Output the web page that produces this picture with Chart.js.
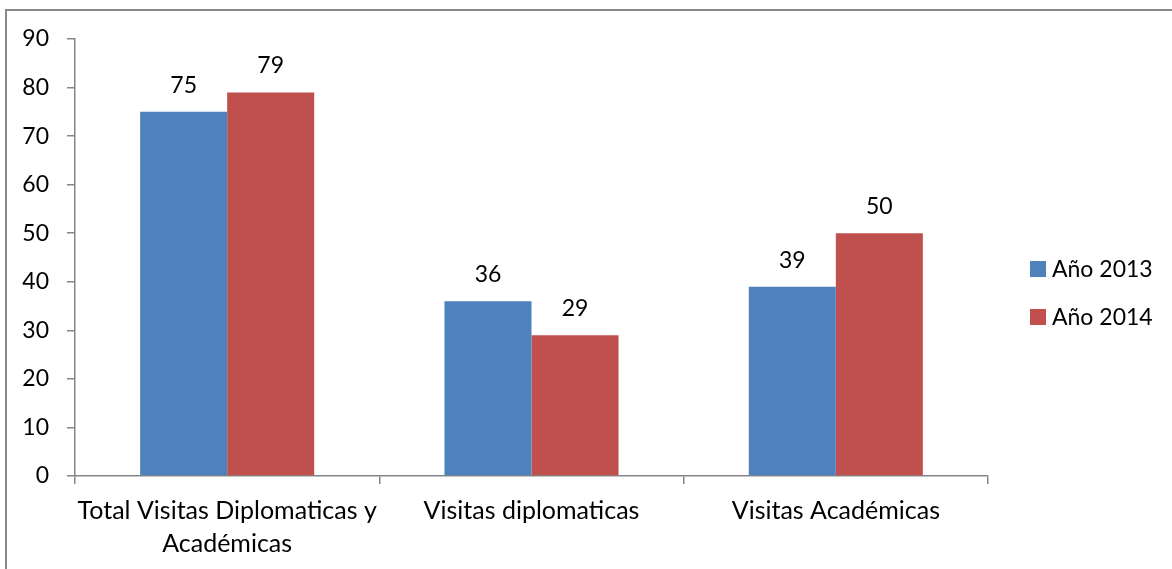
<!DOCTYPE html>
<html>
<head>
<meta charset="utf-8">
<script src="https://cdn.jsdelivr.net/npm/chart.js@4"></script>
<style>
  html, body { margin: 0; padding: 0; background: #fff; }
  #wrap { position: absolute; left: 0; top: 0; width: 1172px; height: 569px; }
</style>
</head>
<body>
<div id="wrap"><canvas id="BarChart"></canvas></div>
<script>
// data
const categories = [['Total Visitas Diplomaticas y', 'Académicas'], 'Visitas diplomaticas', 'Visitas Académicas'];
const seriesNames = ['Año 2013', 'Año 2014'];
const values2013 = [75, 36, 39];
const values2014 = [79, 29, 50];
const yTicks = [0, 10, 20, 30, 40, 50, 60, 70, 80, 90];

const colors = ['#4F81BD', '#C0504D'];
const axisGray = '#868686';
const fontFamily = 'Lato, "Open Sans", sans-serif';
const fontSize = 23;

// value labels above every bar
const barLabels = {
    id: 'barLabels',
    afterDatasetsDraw(chart) {
        const ctx = chart.ctx;
        ctx.save();
        ctx.font = fontSize + 'px ' + fontFamily;
        ctx.fillStyle = '#000';
        ctx.textAlign = 'center';
        ctx.textBaseline = 'alphabetic';
        chart.data.datasets.forEach((ds, i) => {
            chart.getDatasetMeta(i).data.forEach((bar, j) => {
                ctx.fillText(ds.data[j], bar.x, bar.y - 19);
            });
        });
        ctx.restore();
    }
};

// legend on the right, Excel style
const sideLegend = {
    id: 'sideLegend',
    afterDraw(chart) {
        const ctx = chart.ctx;
        ctx.save();
        ctx.font = fontSize + 'px ' + fontFamily;
        ctx.textBaseline = 'middle';
        ctx.textAlign = 'left';
        chart.data.datasets.forEach((ds, i) => {
            const cy = 269 + i * 48;
            ctx.fillStyle = ds.backgroundColor;
            ctx.fillRect(1030, cy - 8, 16, 16);
            ctx.fillStyle = '#000';
            ctx.fillText(ds.label, 1052, cy + 1);
        });
        ctx.restore();
    }
};

// outer chart frame (left and top edges visible)
const frame = {
    id: 'frame',
    beforeDraw(chart) {
        const ctx = chart.ctx;
        ctx.save();
        ctx.fillStyle = '#fff';
        ctx.fillRect(0, 0, chart.width, chart.height);
        ctx.strokeStyle = '#8a8a8a';
        ctx.lineWidth = 2;
        ctx.beginPath();
        ctx.moveTo(6, chart.height + 5);
        ctx.lineTo(6, 10);
        ctx.lineTo(chart.width + 5, 10);
        ctx.stroke();
        ctx.restore();
    }
};

let myChart = document.getElementById('BarChart').getContext('2d');

let massPopChart = new Chart(myChart, {
    type: 'bar',
    data: {
        labels: categories,
        datasets: [
            { label: seriesNames[0], data: values2013, backgroundColor: colors[0] },
            { label: seriesNames[1], data: values2014, backgroundColor: colors[1] }
        ]
    },
    options: {
        responsive: true,
        maintainAspectRatio: false,
        animation: false,
        devicePixelRatio: 1,
        layout: { padding: { top: 39, right: 184, bottom: 0, left: 0 } },
        datasets: {
            bar: { categoryPercentage: 0.572, barPercentage: 1.0 }
        },
        plugins: {
            legend: { display: false },
            tooltip: { enabled: false }
        },
        scales: {
            x: {
                grid: {
                    offset: true,
                    drawOnChartArea: false,
                    drawTicks: true,
                    tickLength: 8,
                    color: axisGray,
                    lineWidth: 1.5
                },
                border: { color: axisGray, width: 1.5 },
                ticks: {
                    color: '#000',
                    padding: 11,
                    maxRotation: 0,
                    font: { family: fontFamily, size: 25, lineHeight: 1.3 }
                },
                afterFit(scale) { scale.height = 93; }
            },
            y: {
                min: 0,
                max: 90,
                afterBuildTicks(scale) { scale.ticks = yTicks.map(v => ({ value: v })); },
                grid: {
                    drawOnChartArea: false,
                    drawTicks: true,
                    tickLength: 8,
                    color: axisGray,
                    lineWidth: 1.5
                },
                border: { color: axisGray, width: 1.5 },
                ticks: {
                    color: '#000',
                    padding: 18,
                    font: { family: fontFamily, size: fontSize }
                },
                afterFit(scale) { scale.width = 75; }
            }
        }
    },
    plugins: [frame, barLabels, sideLegend]
});
</script>
</body>
</html>
